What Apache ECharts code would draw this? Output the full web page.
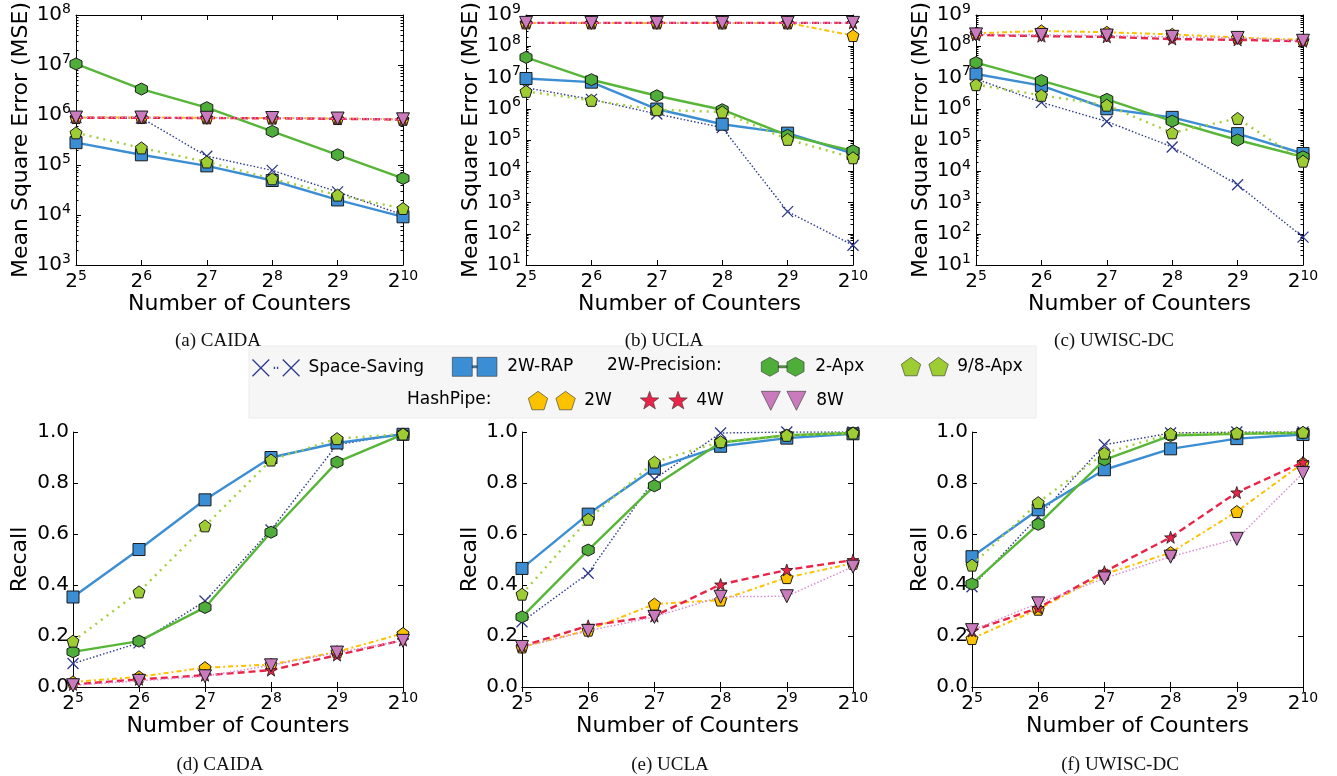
<!DOCTYPE html>
<html>
<head>
<meta charset="utf-8">
<script src="https://cdn.jsdelivr.net/npm/echarts@6/dist/echarts.min.js"></script>
<style>
html,body{margin:0;padding:0;background:#fff;}
#chart{width:1337px;height:776px;}
</style>
</head>
<body>
<div id="chart"></div>
<script>
// ---------- DATA ----------
const seriesNames = ['Space-Saving', '2W-RAP', '2-Apx', '9/8-Apx', '2W', '4W', '8W'];
const counterExps = [5, 6, 7, 8, 9, 10];   // number of counters = 2^exp

// (a) CAIDA – MSE
const caidaMseSpaceSaving = [8.9e5, 8.7e5, 1.5e5, 7.8e4, 2.9e4, 1.0e4];
const caidaMseRap         = [2.8e5, 1.6e5, 9.6e4, 4.9e4, 2.0e4, 9.2e3];
const caidaMse2Apx        = [1.05e7, 3.3e6, 1.4e6, 4.7e5, 1.6e5, 5.4e4];
const caidaMse98Apx       = [4.4e5, 2.2e5, 1.15e5, 5.3e4, 2.5e4, 1.35e4];
const caidaMseHp2W        = [8.9e5, 8.9e5, 8.8e5, 8.7e5, 8.5e5, 8.2e5];
const caidaMseHp4W        = [8.8e5, 8.8e5, 8.7e5, 8.6e5, 8.4e5, 8.1e5];
const caidaMseHp8W        = [8.9e5, 8.9e5, 8.8e5, 8.7e5, 8.5e5, 8.2e5];

// (b) UCLA – MSE
const uclaMseSpaceSaving = [4.7e6, 2.0e6, 6.8e5, 2.5e5, 5.1e2, 43];
const uclaMseRap         = [9.3e6, 7.1e6, 9.8e5, 3.2e5, 1.66e5, 3.7e4];
const uclaMse2Apx        = [4.4e7, 8.5e6, 2.6e6, 9.3e5, 1.4e5, 4.5e4];
const uclaMse98Apx       = [3.6e6, 1.86e6, 9.3e5, 7.9e5, 1.05e5, 2.7e4];
const uclaMseHp2W        = [5.6e8, 5.6e8, 5.6e8, 5.6e8, 5.6e8, 2.2e8];
const uclaMseHp4W        = [5.6e8, 5.6e8, 5.6e8, 5.6e8, 5.6e8, 5.6e8];
const uclaMseHp8W        = [5.6e8, 5.6e8, 5.6e8, 5.6e8, 5.6e8, 5.6e8];

// (c) UWISC-DC – MSE
const uwiscMseSpaceSaving = [9.0e6, 1.6e6, 3.9e5, 6.0e4, 3.7e3, 78];
const uwiscMseRap         = [1.3e7, 5.5e6, 1.0e6, 5.3e5, 1.6e5, 3.7e4];
const uwiscMse2Apx        = [3.0e7, 8.0e6, 2.0e6, 4.0e5, 1.0e5, 2.9e4];
const uwiscMse98Apx       = [5.9e6, 2.7e6, 1.3e6, 1.7e5, 4.9e5, 2.1e4];
const uwiscMseHp2W        = [2.6e8, 3.1e8, 2.8e8, 2.4e8, 1.9e8, 1.6e8];
const uwiscMseHp4W        = [2.3e8, 2.1e8, 2.0e8, 1.7e8, 1.6e8, 1.45e8];
const uwiscMseHp8W        = [2.4e8, 2.3e8, 2.2e8, 2.0e8, 1.85e8, 1.5e8];

// (d) CAIDA – Recall
const caidaRecSpaceSaving = [0.092, 0.173, 0.337, 0.616, 0.950, 0.993];
const caidaRecRap         = [0.353, 0.539, 0.734, 0.900, 0.957, 0.991];
const caidaRec2Apx        = [0.138, 0.180, 0.312, 0.607, 0.882, 0.991];
const caidaRec98Apx       = [0.180, 0.373, 0.632, 0.890, 0.974, 0.992];
const caidaRecHp2W        = [0.020, 0.040, 0.076, 0.088, 0.138, 0.210];
const caidaRecHp4W        = [0.010, 0.030, 0.046, 0.066, 0.125, 0.184];
const caidaRecHp8W        = [0.007, 0.024, 0.042, 0.085, 0.135, 0.181];

// (e) UCLA – Recall
const uclaRecSpaceSaving = [0.256, 0.446, 0.815, 0.996, 1.000, 1.000];
const uclaRecRap         = [0.465, 0.678, 0.858, 0.944, 0.976, 0.993];
const uclaRec2Apx        = [0.275, 0.537, 0.789, 0.959, 0.987, 0.996];
const uclaRec98Apx       = [0.364, 0.658, 0.882, 0.962, 0.987, 0.996];
const uclaRecHp2W        = [0.157, 0.223, 0.325, 0.341, 0.429, 0.485];
const uclaRecHp4W        = [0.160, 0.240, 0.278, 0.402, 0.459, 0.498];
const uclaRecHp8W        = [0.157, 0.220, 0.275, 0.354, 0.356, 0.472];

// (f) UWISC-DC – Recall
const uwiscRecSpaceSaving = [0.393, 0.668, 0.950, 0.996, 1.000, 1.000];
const uwiscRecRap         = [0.511, 0.695, 0.852, 0.934, 0.974, 0.990];
const uwiscRec2Apx        = [0.404, 0.638, 0.891, 0.986, 0.993, 0.996];
const uwiscRec98Apx       = [0.478, 0.723, 0.917, 0.993, 0.996, 0.999];
const uwiscRecHp2W        = [0.190, 0.305, 0.442, 0.527, 0.688, 0.878];
const uwiscRecHp4W        = [0.220, 0.310, 0.452, 0.587, 0.763, 0.882];
const uwiscRecHp8W        = [0.223, 0.328, 0.426, 0.511, 0.581, 0.839];

const captions = ['(a) CAIDA', '(b) UCLA', '(c) UWISC-DC', '(d) CAIDA', '(e) UCLA', '(f) UWISC-DC'];

// ---------- PANELS ----------
const panels = [
  { data: [caidaMseSpaceSaving, caidaMseRap, caidaMse2Apx, caidaMse98Apx, caidaMseHp2W, caidaMseHp4W, caidaMseHp8W], log: true, min: 1e3, max: 1e8, split: 5,
    grid: {left: 76, top: 11, width: 327, height: 254}, name: 'Mean Square Error (MSE)', yGap: 44, xGap: 24, cap: [213, 327] },
  { data: [uclaMseSpaceSaving, uclaMseRap, uclaMse2Apx, uclaMse98Apx, uclaMseHp2W, uclaMseHp4W, uclaMseHp8W], log: true, min: 10, max: 1e9, split: 8,
    grid: {left: 526, top: 11, width: 327, height: 254}, name: 'Mean Square Error (MSE)', yGap: 44, xGap: 24, cap: [659, 327] },
  { data: [uwiscMseSpaceSaving, uwiscMseRap, uwiscMse2Apx, uwiscMse98Apx, uwiscMseHp2W, uwiscMseHp4W, uwiscMseHp8W], log: true, min: 10, max: 1e9, split: 8,
    grid: {left: 976, top: 11, width: 327, height: 254}, name: 'Mean Square Error (MSE)', yGap: 44, xGap: 24, cap: [1109, 327] },
  { data: [caidaRecSpaceSaving, caidaRecRap, caidaRec2Apx, caidaRec98Apx, caidaRecHp2W, caidaRecHp4W, caidaRecHp8W], log: false, min: 0, max: 1, split: 5,
    grid: {left: 73, top: 432, width: 330, height: 255}, name: 'Recall', yGap: 42, xGap: 25, cap: [215, 751] },
  { data: [uclaRecSpaceSaving, uclaRecRap, uclaRec2Apx, uclaRec98Apx, uclaRecHp2W, uclaRecHp4W, uclaRecHp8W], log: false, min: 0, max: 1, split: 5,
    grid: {left: 522, top: 432, width: 331, height: 255}, name: 'Recall', yGap: 41, xGap: 25, cap: [665, 751] },
  { data: [uwiscRecSpaceSaving, uwiscRecRap, uwiscRec2Apx, uwiscRec98Apx, uwiscRecHp2W, uwiscRecHp4W, uwiscRecHp8W], log: false, min: 0, max: 1, split: 5,
    grid: {left: 972, top: 432, width: 331, height: 255}, name: 'Recall', yGap: 41, xGap: 25, cap: [1115, 751] }
];

// ---------- STYLES ----------
const SYM = {
  x: 'path://M0,0L20,20M20,0L0,20',
  hex: 'path://M10,0L18.66,5L18.66,15L10,20L1.34,15L1.34,5Z',
  pent: 'path://M10,0L19.51,6.91L15.88,18.09L4.12,18.09L0.49,6.91Z',
  star: 'path://M10,0L12.35,6.76L19.51,6.91L13.8,11.24L15.88,18.09L10,14L4.12,18.09L6.2,11.24L0.49,6.91L7.65,6.76Z',
  tri: 'path://M0,0L20,0L10,17Z',
  sq: 'path://M0,0L20,0L20,20L0,20Z'
};
const LEG = {
  x: 'path://M1,2L17,18M17,2L1,18M30,2L46,18M46,2L30,18M22,9L22,11M25,9L25,11',
  sq: 'path://M0,0h21v20h-21zM26,0h21v20h-21zM21,9h5v2h-5z',
  hex: 'path://M10,0L19,5L19,15L10,20L1,15L1,5ZM37,0L46,5L46,15L37,20L28,15L28,5ZM19,9h9v2h-9z',
  pent: 'path://M10,0L19.5,6.9L15.9,18.1L4.1,18.1L0.5,6.9ZM37,0L46.5,6.9L42.9,18.1L31.1,18.1L27.5,6.9Z',
  star: 'path://M10,1L12.2,7.2L18.8,7.3L13.6,11.4L15.5,17.7L10,14L4.5,17.7L6.4,11.4L1.2,7.3L7.8,7.2ZM37,1L39.2,7.2L45.8,7.3L40.6,11.4L42.5,17.7L37,14L31.5,17.7L33.4,11.4L28.2,7.3L34.8,7.2Z',
  tri: 'path://M0,0h20L10,20zM27,0h20L37,20z'
};
const STY = {
  'Space-Saving': {color: '#2e3a8a', fill: 'none', border: '#2e3a8a', bw: 1.3, sym: 'x', size: 11, lw: 1.4, dash: [1.5, 2]},
  '2W-RAP':       {color: '#3b8ed3', fill: '#3b8ed3', border: '#1a1a1a', bw: 1, sym: 'sq', size: 12, lw: 2.4, dash: 'solid'},
  '2-Apx':        {color: '#57b538', fill: '#4fae3a', border: '#1a1a1a', bw: 1, sym: 'hex', size: 12, lw: 2.4, dash: 'solid'},
  '9/8-Apx':      {color: '#a4cf3c', fill: '#9dcc33', border: '#1a1a1a', bw: 1, sym: 'pent', size: 12, lw: 2.4, dash: [2, 5]},
  '2W':           {color: '#fcc200', fill: '#fcc200', border: '#1a1a1a', bw: 1, sym: 'pent', size: 12, lw: 2, dash: [5, 3, 2, 3]},
  '4W':           {color: '#ea2448', fill: '#ea2448', border: '#1a1a1a', bw: 0.8, sym: 'star', size: 12, lw: 2.4, dash: [7, 4]},
  '8W':           {color: '#d98fd2', fill: '#c97bbd', border: '#1a1a1a', bw: 1, sym: 'tri', size: 13, lw: 1.5, dash: [1.5, 2]}
};

const FONT = 'DejaVu Sans';
const supRich = {
  b: {fontSize: 20, fontFamily: FONT, color: '#000'},
  s: {fontSize: 14, fontFamily: FONT, color: '#000', padding: [0, 0, 12, 0]}
};

// log-scale minor tick positions (2..9 × 10^n) for an axis range
function minorLogTicks(min, max) {
  const out = [];
  const lo = Math.round(Math.log10(min)), hi = Math.round(Math.log10(max));
  for (let n = lo; n < hi; n++) for (let k = 2; k <= 9; k++) out.push(k * Math.pow(10, n));
  return out;
}

const grids = [], xAxes = [], yAxes = [], series = [], titles = [];
panels.forEach((p, i) => {
  grids.push(Object.assign({containLabel: false}, p.grid));
  const line = {show: true, lineStyle: {color: '#000', width: 1}};
  const tick = {show: true, inside: true, length: 5, lineStyle: {color: '#000', width: 1}};
  xAxes.push({
    type: 'value', gridIndex: i, min: 5, max: 10, interval: 1, position: 'bottom',
    axisLine: line, axisTick: tick, splitLine: {show: false},
    axisLabel: {margin: 4, formatter: v => '{b|2}{s|' + v + '}', rich: supRich},
    name: 'Number of Counters', nameLocation: 'middle', nameGap: p.xGap,
    nameTextStyle: {fontSize: 22, fontFamily: FONT, color: '#000'}
  });
  xAxes.push({
    type: 'value', gridIndex: i, min: 5, max: 10, interval: 1, position: 'top',
    axisLine: line, axisTick: tick, splitLine: {show: false}, axisLabel: {show: false}
  });
  const yBase = p.log
    ? {type: 'log', logBase: 10, min: p.min, max: p.max, splitNumber: p.split}
    : {type: 'value', min: p.min, max: p.max, interval: 0.2};
  const yIdx = yAxes.length;
  yAxes.push(Object.assign({}, yBase, {
    gridIndex: i, position: 'left', axisLine: line, axisTick: tick, splitLine: {show: false},
    axisLabel: p.log
      ? {margin: 5, formatter: v => '{b|10}{s|' + Math.round(Math.log10(v)) + '}', rich: supRich}
      : {margin: 4, fontSize: 20, fontFamily: FONT, color: '#000', formatter: v => v.toFixed(1)},
    name: p.name, nameLocation: 'middle', nameGap: p.yGap,
    nameTextStyle: {fontSize: 22, fontFamily: FONT, color: '#000'}
  }));
  yAxes.push(Object.assign({}, yBase, {
    gridIndex: i, position: 'right', axisLine: line, axisTick: tick, splitLine: {show: false},
    axisLabel: {show: false}
  }));
  if (p.log) {
    const minor = minorLogTicks(p.min, p.max);
    ['left', 'right'].forEach(pos => {
      yAxes.push(Object.assign({}, yBase, {
        gridIndex: i, position: pos, axisLine: {show: false}, splitLine: {show: false},
        axisLabel: {show: false},
        axisTick: {show: true, inside: true, length: 2.5, customValues: minor, lineStyle: {color: '#000', width: 1}}
      }));
    });
  }
  p.data.forEach((arr, k) => {
    const nm = seriesNames[k];
    const s = STY[nm];
    series.push({
      type: 'line', name: nm, xAxisIndex: 2 * i, yAxisIndex: yIdx,
      data: counterExps.map((e, j) => [e, arr[j]]),
      symbol: SYM[s.sym], symbolSize: s.size, showAllSymbol: true,
      lineStyle: {color: s.color, width: s.lw, type: s.dash, cap: 'butt'},
      itemStyle: {color: s.fill, borderColor: s.border, borderWidth: s.bw},
      emphasis: {disabled: true}, animation: false, z: 2 + k
    });
  });
  titles.push({
    text: captions[i], left: p.cap[0], top: p.cap[1], textAlign: 'center',
    textStyle: {fontFamily: 'Liberation Serif', fontSize: 19, fontWeight: 'normal', color: '#111'}
  });
});

// ---------- LEGEND ----------
const legendPos = [
  ['Space-Saving', 250, 357, 'x'],
  ['2W-RAP', 452, 357, 'sq'],
  ['2-Apx', 761, 357, 'hex'],
  ['9/8-Apx', 901, 357, 'pent'],
  ['2W', 528, 391, 'pent'],
  ['4W', 640, 391, 'star'],
  ['8W', 761, 391, 'tri']
];
const legends = legendPos.map(([nm, x, y, ic]) => {
  const s = STY[nm];
  return {
    left: x, top: y, itemWidth: 47, itemHeight: 19, padding: 0, selectedMode: false,
    data: [{name: nm, icon: LEG[ic],
      itemStyle: {color: s.fill, borderColor: nm === 'Space-Saving' ? s.color : '#333', borderWidth: nm === 'Space-Saving' ? 1.3 : 0.6}}],
    textStyle: {fontSize: 17, fontFamily: FONT, color: '#000', padding: [0, 0, 0, 4]}
  };
});

const option = {
  backgroundColor: '#fff',
  animation: false,
  title: titles,
  grid: grids,
  xAxis: xAxes,
  yAxis: yAxes,
  legend: legends,
  series: series,
  graphic: [
    {type: 'rect', shape: {x: 249, y: 346, width: 787, height: 72}, style: {fill: '#f6f6f6', stroke: '#ececec'}, z: -10, silent: true},
    {type: 'text', x: 607, y: 366, style: {text: '2W-Precision:', fontSize: 17, fontFamily: FONT, fill: '#000', verticalAlign: 'middle'}},
    {type: 'text', x: 407, y: 400, style: {text: 'HashPipe:', fontSize: 17, fontFamily: FONT, fill: '#000', verticalAlign: 'middle'}}
  ]
};

const chart = echarts.init(document.getElementById('chart'), null, {renderer: 'canvas'});
chart.setOption(option);
</script>
</body>
</html>
